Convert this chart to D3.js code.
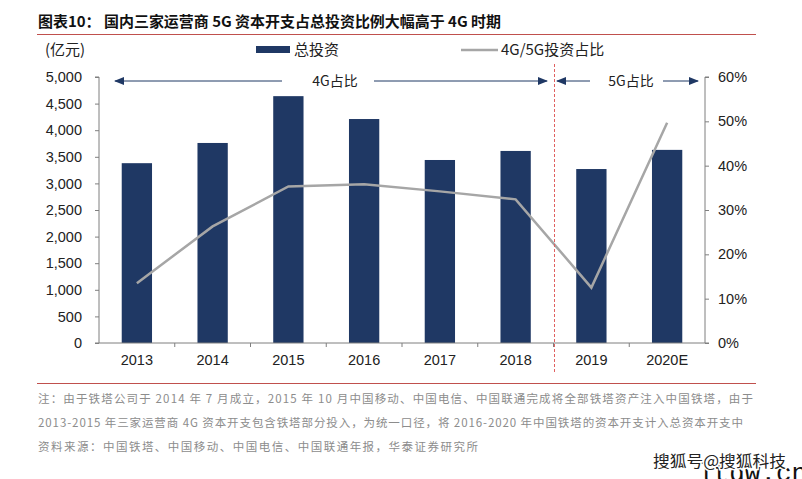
<!DOCTYPE html>
<html>
<head>
<meta charset="utf-8">
<script src="https://cdn.jsdelivr.net/npm/d3@7"></script>
<style>
  body { margin: 0; background: #fff; }
  svg { display: block; font-family: "Liberation Sans", Arial, sans-serif; }
  .cjk { font-family: "Noto Sans CJK SC", "Liberation Sans", sans-serif; }
</style>
</head>
<body>
<script>
// chart data
const years = ["2013", "2014", "2015", "2016", "2017", "2018", "2019", "2020E"];
const capex = [3380, 3760, 4640, 4210, 3440, 3610, 3270, 3630];      // 亿元
const share = [13.5, 26.3, 35.3, 35.8, 34.2, 32.4, 12.5, 49.7];      // %
const leftTicks = [0, 500, 1000, 1500, 2000, 2500, 3000, 3500, 4000, 4500, 5000];
const rightTicks = [0, 10, 20, 30, 40, 50, 60];
const notes = [
  "注：由于铁塔公司于 2014 年 7 月成立，2015 年 10 月中国移动、中国电信、中国联通完成将全部铁塔资产注入中国铁塔，由于",
  "2013-2015 年三家运营商 4G 资本开支包含铁塔部分投入，为统一口径，将 2016-2020 年中国铁塔的资本开支计入总资本开支中",
  "资料来源：中国铁塔、中国移动、中国电信、中国联通年报，华泰证券研究所"
];
const noteWidths = [715, 705, 440];

const W = 802, H = 479;
const navy = "#1f3864", grey = "#a6a6a6", axisC = "#7f7f7f", red = "#c0504d";
// plot box (window.top is taken, so prefixed names)
const pL = 99, pR = 705, pT = 77, pB = 343;

const svg = d3.select("body").append("svg").attr("width", W).attr("height", H);

const defs = svg.append("defs");
defs.append("marker").attr("id", "arr").attr("viewBox", "0 0 10 10")
  .attr("refX", 9).attr("refY", 5).attr("markerWidth", 10).attr("markerHeight", 10)
  .attr("markerUnits", "userSpaceOnUse").attr("orient", "auto-start-reverse")
  .append("path").attr("d", "M0,1 L10,5 L0,9 Z").attr("fill", navy);

// title + rules
svg.append("text").attr("class", "cjk").attr("x", 38).attr("y", 27)
  .attr("font-size", 14.5).attr("font-weight", "bold").attr("fill", "#111")
  .attr("textLength", 463).attr("lengthAdjust", "spacingAndGlyphs")
  .text("图表10：  国内三家运营商 5G 资本开支占总投资比例大幅高于 4G 时期");
svg.append("line").attr("x1", 37).attr("x2", 756).attr("y1", 34.5).attr("y2", 34.5)
  .attr("stroke", red).attr("stroke-width", 1.2);
svg.append("line").attr("x1", 37).attr("x2", 756).attr("y1", 383.5).attr("y2", 383.5)
  .attr("stroke", red).attr("stroke-width", 1.2);

const x = d3.scaleBand().domain(years).range([pL, pR]).paddingInner(0.6).paddingOuter(0.3);
const xb = d3.scaleBand().domain(years).range([pL, pR]);
const y = d3.scaleLinear().domain([0, 5000]).range([pB, pT]);
const y2 = d3.scaleLinear().domain([0, 60]).range([pB, pT]);

// bars
svg.append("g").selectAll("rect").data(years).join("rect")
  .attr("x", (d) => x(d)).attr("width", x.bandwidth())
  .attr("y", (d, i) => y(capex[i])).attr("height", (d, i) => pB - y(capex[i]))
  .attr("fill", navy);

// axes
const ax = svg.append("g").attr("transform", `translate(${pL},0)`)
  .call(d3.axisLeft(y).tickValues(leftTicks).tickSize(4).tickPadding(13).tickFormat(d3.format(",")));
const ax2 = svg.append("g").attr("transform", `translate(${pR},0)`)
  .call(d3.axisRight(y2).tickValues(rightTicks).tickSize(4).tickPadding(9).tickFormat((d) => d + "%"));
[ax, ax2].forEach((g) => {
  g.select(".domain").attr("stroke", axisC).attr("d", g === ax ? `M-4,${pT}H0V${pB}H-4` : `M4,${pT}H0V${pB}H4`);
  g.selectAll(".tick line").attr("stroke", axisC);
  g.selectAll(".tick text").attr("font-size", 14.5).attr("fill", "#222");
});

const axb = svg.append("g").attr("transform", `translate(0,${pB})`);
axb.append("line").attr("x1", pL).attr("x2", pR).attr("stroke", axisC);
axb.selectAll("line.t").data(years.slice(1)).join("line").attr("class", "t")
  .attr("x1", (d) => xb(d)).attr("x2", (d) => xb(d)).attr("y2", 4).attr("stroke", axisC);
axb.selectAll("text").data(years).join("text")
  .attr("x", (d) => xb(d) + xb.bandwidth() / 2).attr("y", 22)
  .attr("text-anchor", "middle").attr("font-size", 14.5).attr("fill", "#222").text((d) => d);

// share line
const line = d3.line().x((d, i) => xb(years[i]) + xb.bandwidth() / 2).y((d) => y2(d));
svg.append("path").datum(share).attr("d", line)
  .attr("fill", "none").attr("stroke", grey).attr("stroke-width", 2.5);

// 4G / 5G split
const split = xb("2019") + 1;
svg.append("line").attr("x1", split).attr("x2", split).attr("y1", 64).attr("y2", 372)
  .attr("stroke", "#e06060").attr("stroke-width", 1).attr("stroke-dasharray", "3,2");

function span(x1, x2, gap1, gap2, label, lx) {
  const g = svg.append("g");
  g.append("line").attr("x1", gap1).attr("x2", x1).attr("y1", 81).attr("y2", 81)
    .attr("stroke", navy).attr("stroke-width", 1).attr("marker-end", "url(#arr)");
  g.append("line").attr("x1", gap2).attr("x2", x2).attr("y1", 81).attr("y2", 81)
    .attr("stroke", navy).attr("stroke-width", 1).attr("marker-end", "url(#arr)");
  g.append("text").attr("class", "cjk").attr("x", lx).attr("y", 86).attr("text-anchor", "middle")
    .attr("font-size", 14).attr("fill", "#222").text(label);
}
span(115, 547, 282, 374, "4G占比", 335);
span(557, 698, 590, 663, "5G占比", 631);

// legend
svg.append("text").attr("class", "cjk").attr("x", 45).attr("y", 55).attr("font-size", 15).attr("fill", "#222").text("(亿元)");
svg.append("rect").attr("x", 256).attr("y", 46).attr("width", 34).attr("height", 7).attr("fill", navy);
svg.append("text").attr("class", "cjk").attr("x", 294).attr("y", 55).attr("font-size", 15).attr("fill", "#222").text("总投资");
svg.append("line").attr("x1", 461).attr("x2", 498).attr("y1", 50).attr("y2", 50).attr("stroke", grey).attr("stroke-width", 2.5);
svg.append("text").attr("class", "cjk").attr("x", 501).attr("y", 55).attr("font-size", 15).attr("fill", "#222").text("4G/5G投资占比");

// notes
svg.append("g").selectAll("text").data(notes).join("text").attr("class", "cjk")
  .attr("x", 38).attr("y", (d, i) => 403 + i * 24)
  .attr("font-size", 11.5).attr("fill", "#8c8c8c")
  .attr("textLength", (d, i) => noteWidths[i]).attr("lengthAdjust", "spacing")
  .text((d) => d);

// watermarks (the site mark is cut by the bottom edge, as in the source)
svg.append("text").attr("x", 698).attr("y", 481)
  .attr("font-family", "Liberation Mono, monospace").attr("font-size", 26).attr("fill", "#111")
  .text("ltdw.cn");
svg.append("text").attr("class", "cjk").attr("x", 653).attr("y", 467)
  .attr("font-size", 16).attr("fill", "#222").attr("stroke", "#fff").attr("stroke-width", 3)
  .attr("paint-order", "stroke").attr("textLength", 133).attr("lengthAdjust", "spacingAndGlyphs")
  .text("搜狐号@搜狐科技");
</script>
</body>
</html>
